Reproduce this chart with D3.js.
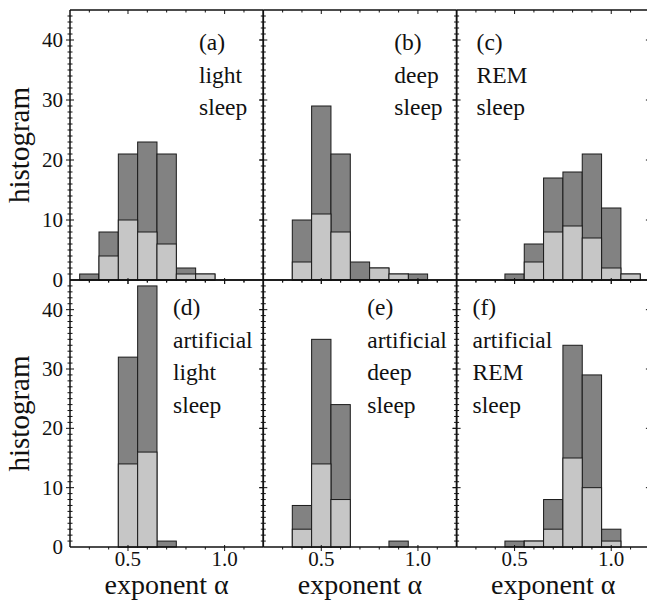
<!DOCTYPE html>
<html>
<head>
<meta charset="utf-8">
<title>Histograms of exponent alpha</title>
<script src="https://d3js.org/d3.v7.min.js"></script>
<style>
  body { margin: 0; background: #fff; }
</style>
</head>
<body>
<svg id="chart"></svg>
<script>
// bin centres of exponent alpha (bin width 0.1)
const binCenters = [0.3, 0.4, 0.5, 0.6, 0.7, 0.8, 0.9, 1.0, 1.1];

// dark bars = all counts, light bars = subset drawn on top
const darkA = [1, 8, 21, 23, 21, 2, 1, 0, 0];
const lightA = [0, 4, 10, 8, 6, 1, 1, 0, 0];
const darkB = [0, 10, 29, 21, 3, 2, 1, 1, 0];
const lightB = [0, 3, 11, 8, 0, 2, 1, 0, 0];
const darkC = [0, 0, 1, 6, 17, 18, 21, 12, 1];
const lightC = [0, 0, 0, 3, 8, 9, 7, 2, 1];
const darkD = [0, 0, 32, 44, 1, 0, 0, 0, 0];
const lightD = [0, 0, 14, 16, 0, 0, 0, 0, 0];
const darkE = [0, 7, 35, 24, 0, 0, 1, 0, 0];
const lightE = [0, 3, 14, 8, 0, 0, 0, 0, 0];
const darkF = [0, 0, 1, 1, 8, 34, 29, 3, 0];
const lightF = [0, 0, 0, 1, 3, 15, 10, 1, 0];

const labelsA = ["(a)", "light", "sleep"];
const labelsB = ["(b)", "deep", "sleep"];
const labelsC = ["(c)", "REM", "sleep"];
const labelsD = ["(d)", "artificial", "light", "sleep"];
const labelsE = ["(e)", "artificial", "deep", "sleep"];
const labelsF = ["(f)", "artificial", "REM", "sleep"];

const yTickLabels = [0, 10, 20, 30, 40];
const xTickLabels = [0.5, 1.0];
const yLabel = "histogram";
const xLabel = "exponent \u03b1";

const W = 647, H = 601;
const left = 70, panelW = 193.3;
const font = "Liberation Serif";
const rows = [
  { top: 10, bottom: 280 },
  { top: 280, bottom: 547 }
];

const panels = [
  { row: 0, col: 0, dark: darkA, light: lightA, labels: labelsA, lx: 129 },
  { row: 0, col: 1, dark: darkB, light: lightB, labels: labelsB, lx: 131 },
  { row: 0, col: 2, dark: darkC, light: lightC, labels: labelsC, lx: 20 },
  { row: 1, col: 0, dark: darkD, light: lightD, labels: labelsD, lx: 103 },
  { row: 1, col: 1, dark: darkE, light: lightE, labels: labelsE, lx: 104 },
  { row: 1, col: 2, dark: darkF, light: lightF, labels: labelsF, lx: 16 }
];

const svg = d3.select("#chart").attr("width", W).attr("height", H);

function addText(g, size) {
  return g.append("text")
    .style("font-family", "'" + font + "'")
    .attr("font-size", size)
    .attr("fill", "#111");
}

function tick(g, x1, x2, y1, y2, w) {
  g.append("line")
    .attr("x1", x1).attr("x2", x2).attr("y1", y1).attr("y2", y2)
    .attr("stroke", "#111").attr("stroke-width", w || 1);
}

panels.forEach(function(p) {
  const x0 = left + p.col * panelW;
  const r = rows[p.row];
  const x = d3.scaleLinear().domain([0.2, 1.2]).range([x0, x0 + panelW]);
  const y = d3.scaleLinear().domain([0, 45]).range([r.bottom, r.top]);
  const g = svg.append("g");
  const bw = x(0.3) - x(0.2);

  const bins = binCenters.map((c, i) => ({ c: c, dark: p.dark[i], light: p.light[i] }));

  // dark (total) bars
  g.selectAll(".dark").data(bins.filter(d => d.dark > 0)).enter().append("rect")
    .attr("x", d => x(d.c) - bw / 2)
    .attr("y", d => y(d.dark))
    .attr("width", bw)
    .attr("height", d => y(0) - y(d.dark))
    .attr("fill", "#828282")
    .attr("stroke", "#1a1a1a")
    .attr("stroke-width", 1);

  // light (subset) bars
  g.selectAll(".light").data(bins.filter(d => d.light > 0)).enter().append("rect")
    .attr("x", d => x(d.c) - bw / 2)
    .attr("y", d => y(d.light))
    .attr("width", bw)
    .attr("height", d => y(0) - y(d.light))
    .attr("fill", "#c6c6c6")
    .attr("stroke", "#1a1a1a")
    .attr("stroke-width", 1);

  // y ticks on left edge (minor every 1, major every 10)
  d3.range(1, 45).forEach(function(v) {
    const len = v % 10 === 0 ? 4 : 2.5;
    tick(g, x0 - len, x0 + len, y(v), y(v));
  });
  // major y ticks on right edge, pointing inward
  [10, 20, 30, 40].forEach(function(v) {
    tick(g, x0 + panelW - 4, x0 + panelW, y(v), y(v));
  });

  // x ticks at bottom (crossing) and top (inward)
  d3.range(3, 12).forEach(function(k) {
    const v = k / 10;
    const major = k === 5 || k === 10;
    const len = major ? 4 : 2.5;
    tick(g, x(v), x(v), r.bottom - (major ? 2 : 0), r.bottom + len);
    tick(g, x(v), x(v), r.top, r.top + len);
  });

  // frame
  tick(g, x0, x0, r.top, r.bottom, 1.5);
  tick(g, x0, x0 + panelW, r.bottom, r.bottom, 1.5);
  tick(g, x0, x0 + panelW, r.top, r.top, 1.5);
  tick(g, x0 + panelW, x0 + panelW, r.top, r.bottom, 1.5);

  // panel labels
  const firstBase = p.row === 0 ? 50 : 315;
  p.labels.forEach(function(t, i) {
    addText(g, 23.5)
      .attr("x", x0 + p.lx)
      .attr("y", firstBase + i * 32.7)
      .text(t);
  });

  // y tick labels for left column
  if (p.col === 0) {
    yTickLabels.forEach(function(v) {
      addText(g, 21)
        .attr("x", x0 - 7)
        .attr("y", y(v))
        .attr("dy", "0.34em")
        .attr("text-anchor", "end")
        .text(v);
    });
    addText(g, 29)
      .attr("transform", "translate(29," + ((r.top + r.bottom) / 2) + ") rotate(-90)")
      .attr("text-anchor", "middle")
      .text(yLabel);
  }

  // x tick labels and title for bottom row
  if (p.row === 1) {
    xTickLabels.forEach(function(v) {
      addText(g, 21)
        .attr("x", x(v))
        .attr("y", 566)
        .attr("text-anchor", "middle")
        .text(d3.format(".1f")(v));
    });
    addText(g, 28)
      .attr("x", x0 + panelW / 2)
      .attr("y", 594)
      .attr("text-anchor", "middle")
      .text(xLabel);
  }
});
</script>
</body>
</html>
